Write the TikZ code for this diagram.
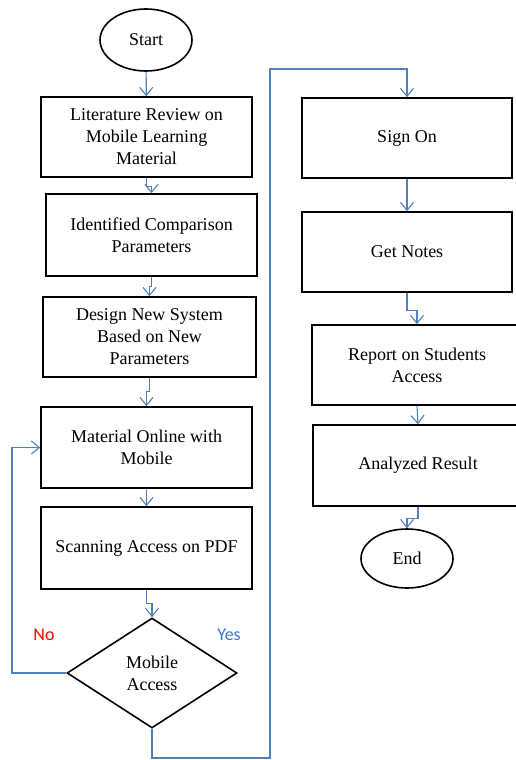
\documentclass[tikz,border=0pt]{standalone}
\usepackage{fontspec}
\setmainfont{Liberation Serif}
\newfontfamily\boxfont{Liberation Serif}
\newfontfamily\lblfont{Carlito}
\usetikzlibrary{arrows.meta,shapes.geometric}
\definecolor{conncol}{RGB}{79,129,189}
\definecolor{nocol}{RGB}{255,0,0}
\definecolor{yescol}{RGB}{60,120,200}
\tikzset{
  stepbox/.style={draw=black, line width=1.6pt, rectangle, minimum width=210pt, minimum height=80pt, align=center, inner sep=2pt, font=\boxfont\fontsize{18}{22}\selectfont},
  termnode/.style={draw=black, line width=1.6pt, ellipse, minimum width=92pt, minimum height=62pt, inner sep=0pt, font=\boxfont\fontsize{18}{22}\selectfont},
  decnode/.style={draw=black, line width=1.6pt, diamond, minimum width=170pt, minimum height=110pt, inner sep=0pt, align=center, font=\boxfont\fontsize{18}{22}\selectfont},
  conn/.style={draw=conncol, line width=1.1pt, -{Straight Barb[length=8pt,width=13pt,line width=1.1pt]}},
  lbl/.style={font=\lblfont\fontsize{18}{22}\selectfont, inner sep=0pt}
}
\begin{document}
\begin{tikzpicture}[x=1pt,y=-1pt]
\useasboundingbox (0,0) rectangle (515,760);
\fill[white] (0,0) rectangle (515,760);

\node[termnode] (start) at (146,40) {Start};
\node[stepbox, minimum width=211pt] (lit) at (146.5,137) {Literature Review on\\Mobile Learning\\Material};
\node[stepbox, minimum width=211pt, minimum height=82pt] (ident) at (151.5,235) {Identified Comparison\\Parameters};
\node[stepbox, minimum width=213pt] (design) at (149.5,337) {Design New System\\Based on New\\Parameters};
\node[stepbox, minimum width=211pt, minimum height=81pt] (mat) at (146.5,447.5) {Material Online with\\Mobile};
\node[stepbox, minimum width=211pt, minimum height=82pt] (scan) at (146.5,548) {Scanning Access on PDF};
\node[decnode] (dec) at (152,673) {Mobile\\Access};

\node[stepbox] (sign) at (407,138) {Sign On};
\node[stepbox] (notes) at (407,252) {Get Notes};
\node[stepbox] (report) at (417,365) {Report on Students\\Access};
\node[stepbox, minimum height=81pt] (anal) at (418,465.5) {Analyzed Result};
\node[termnode, minimum height=59pt] (end) at (407,558.5) {End};

\node[lbl, text=nocol] (no) at (44,635) {No};
\node[lbl, text=yescol] (yes) at (229,635) {Yes};

\coordinate (loopL) at (12,673);
\coordinate (yesB) at (270,758);
\coordinate (yesT) at (270,69);

\draw[conn] (start) -- (lit);
\draw[conn] (lit.south) -- ++(0,9) -| (ident.north);
\draw[conn] (ident.south) -- ++(0,10) -| (design.north);
\draw[conn] (design.south) -- ++(0,14) -| (mat.north);
\draw[conn] (mat) -- (scan);
\draw[conn] (scan.south) -- ++(0,14) -| (dec.north);
\draw[conn] (dec.west) -- (loopL) |- (mat.west);
\draw[conn] (dec.south) |- (yesB) -- (yesT) -| (sign.north);
\draw[conn] (sign) -- (notes);
\draw[conn] (notes.south) -- ++(0,18) -| (report.north);
\draw[conn] (report.south) -- (anal.north);
\draw[conn] (anal.south) -- ++(0,12) -| (end.north);
\end{tikzpicture}
\end{document}
